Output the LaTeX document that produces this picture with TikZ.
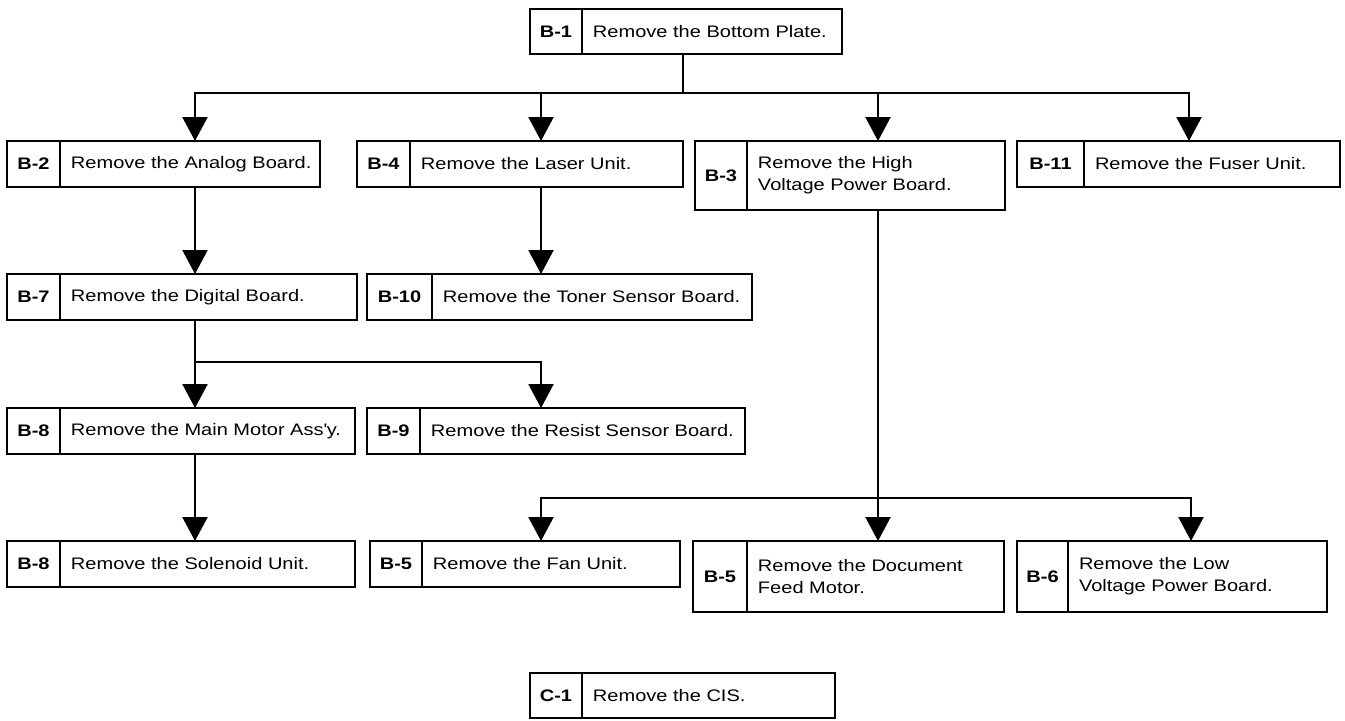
\documentclass[tikz,border=0pt]{standalone}
\usepackage{fontspec}
\setmainfont{Liberation Sans}[FakeStretch=1.2]
\usetikzlibrary{positioning,arrows.meta}

\begin{document}
\begin{tikzpicture}[x=0.02cm, y=-0.02cm,
    tag/.style={draw, line width=1.2pt, outer sep=0pt, inner sep=0pt, anchor=north west,
      minimum height=0.92cm, font=\fontsize{9.5}{12.5}\selectfont\bfseries},
    desc/.style={draw, line width=1.2pt, outer sep=0pt, inner ysep=0pt, inner xsep=0.22cm,
      minimum height=0.92cm, align=left, text width=#1, font=\fontsize{9.5}{12.5}\selectfont},
    wire/.style={line width=1.3pt, line cap=rect},
    flow/.style={wire, -{Triangle[width=0.5cm,length=0.48cm]}}]
  \useasboundingbox (0,0) rectangle (1345,720);

  % top step
  \node[tag, minimum width=1.04cm, minimum height=0.9cm] (b1) at (530,9) {B-1};
  \node[desc=4.76cm, minimum height=0.9cm, right=0pt of b1] (b1t) {Remove the Bottom Plate.};

  % first row
  \node[tag, minimum width=1.06cm] (b2) at (7,141) {B-2};
  \node[desc=4.76cm, right=0pt of b2] (b2t) {\mbox{Remove the Analog Board.}};
  \node[tag, minimum width=1.06cm] (b4) at (357,141) {B-4};
  \node[desc=5.02cm, right=0pt of b4] (b4t) {Remove the Laser Unit.};
  \node[tag, minimum width=1.04cm, minimum height=1.38cm] (b3) at (695,141) {B-3};
  \node[desc=4.72cm, minimum height=1.38cm, right=0pt of b3] (b3t) {Remove the High\\Voltage Power Board.};
  \node[tag, minimum width=1.34cm] (b11) at (1017,141) {B-11};
  \node[desc=4.68cm, right=0pt of b11] (b11t) {Remove the Fuser Unit.};

  % second row
  \node[tag, minimum width=1.06cm] (b7) at (7,274) {B-7};
  \node[desc=5.5cm, right=0pt of b7] (b7t) {Remove the Digital Board.};
  \node[tag, minimum width=1.3cm] (b10) at (367,274) {B-10};
  \node[desc=5.96cm, right=0pt of b10] (b10t) {Remove the Toner Sensor Board.};

  % third row
  \node[tag, minimum width=1.06cm] (b8a) at (7,408) {B-8};
  \node[desc=5.46cm, right=0pt of b8a] (b8at) {Remove the Main Motor Ass\textquotesingle y.};
  \node[tag, minimum width=1.06cm] (b9) at (367,408) {B-9};
  \node[desc=6.06cm, right=0pt of b9] (b9t) {Remove the Resist Sensor Board.};

  % fourth row
  \node[tag, minimum width=1.06cm] (b8b) at (7,541) {B-8};
  \node[desc=5.46cm, right=0pt of b8b] (b8bt) {Remove the Solenoid Unit.};
  \node[tag, minimum width=1.04cm] (b5a) at (370,541) {B-5};
  \node[desc=4.72cm, right=0pt of b5a] (b5at) {Remove the Fan Unit.};
  \node[tag, minimum width=1.08cm, minimum height=1.42cm] (b5b) at (693,541) {B-5};
  \node[desc=4.70cm, minimum height=1.42cm, right=0pt of b5b] (b5bt) {Remove the Document\\Feed Motor.};
  \node[tag, minimum width=1.02cm, minimum height=1.42cm] (b6) at (1017,541) {B-6};
  \node[desc=4.74cm, minimum height=1.42cm, right=0pt of b6] (b6t) {Remove the Low\\Voltage Power Board.};

  % separate step
  \node[tag, minimum width=1.04cm, minimum height=0.9cm] (c1) at (530,673) {C-1};
  \node[desc=4.62cm, minimum height=0.9cm, right=0pt of c1] (c1t) {Remove the CIS.};

  % branch points
  \coordinate (j1) at (683,93);
  \coordinate (d2) at (195,93);
  \coordinate (d4) at (541,93);
  \coordinate (d3) at (878,93);
  \coordinate (d11) at (1189,93);
  \coordinate (j7) at (195,362);
  \coordinate (j9) at (541,362);
  \coordinate (j3) at (878,498);
  \coordinate (j5) at (541,498);
  \coordinate (j6) at (1191,498);

  % connectors
  \draw[wire] (j1 |- b1t.south) -- (j1);
  \draw[wire] (d2) -- (d11);
  \foreach \d/\n in {d2/b2t, d4/b4t, d3/b3t, d11/b11t}
    \draw[flow] (\d) -- (\d |- \n.north);
  \draw[flow] (d2 |- b2t.south) -- (d2 |- b7t.north);
  \draw[flow] (d4 |- b4t.south) -- (d4 |- b10t.north);
  \draw[wire] (j7 |- b7t.south) -- (j7) -- (j9);
  \draw[flow] (j7) -- (j7 |- b8at.north);
  \draw[flow] (j9) -- (j9 |- b9t.north);
  \draw[flow] (j7 |- b8at.south) -- (j7 |- b8bt.north);
  \draw[wire] (j3 |- b3t.south) -- (j3);
  \draw[wire] (j5) -- (j6);
  \foreach \d/\n in {j5/b5at, j3/b5bt, j6/b6t}
    \draw[flow] (\d) -- (\d |- \n.north);
\end{tikzpicture}
\end{document}
